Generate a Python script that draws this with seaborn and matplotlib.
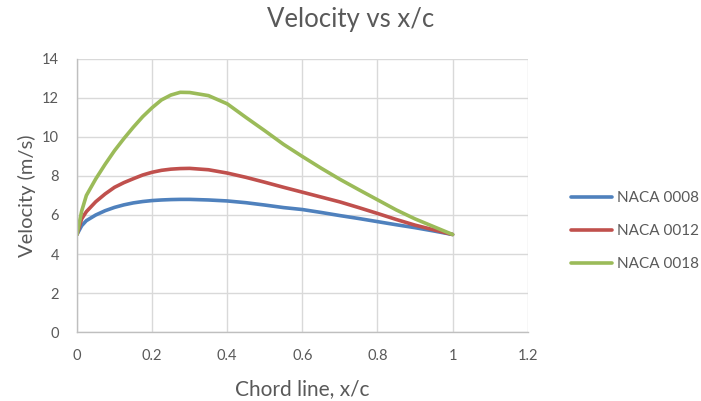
import pandas as pd
import seaborn as sns
import matplotlib
matplotlib.use('Agg')
import matplotlib.pyplot as plt

# chord positions and velocities
x_c = [0, 0.0125, 0.025, 0.05, 0.075, 0.1, 0.125, 0.15, 0.175, 0.2, 0.225, 0.25, 0.275, 0.3,
       0.35, 0.4, 0.45, 0.5, 0.55, 0.6, 0.65, 0.7, 0.75, 0.8, 0.85, 0.9, 0.95, 1.0]
v_0008 = [5.0, 5.45, 5.71, 6.0, 6.22, 6.39, 6.52, 6.62, 6.69, 6.74, 6.77, 6.79, 6.8, 6.8,
          6.77, 6.72, 6.63, 6.51, 6.38, 6.28, 6.13, 5.97, 5.82, 5.66, 5.5, 5.35, 5.18, 5.0]
v_0012 = [5.0, 5.8, 6.17, 6.68, 7.08, 7.42, 7.66, 7.86, 8.05, 8.19, 8.29, 8.35, 8.38, 8.39,
          8.32, 8.15, 7.93, 7.68, 7.42, 7.17, 6.92, 6.67, 6.38, 6.08, 5.77, 5.48, 5.24, 5.0]
v_0018 = [5.0, 6.2, 7.0, 7.85, 8.6, 9.3, 9.92, 10.5, 11.04, 11.5, 11.9, 12.15, 12.29, 12.28,
          12.12, 11.7, 11.0, 10.32, 9.62, 9.0, 8.4, 7.83, 7.3, 6.78, 6.26, 5.8, 5.4, 5.0]
series = ['NACA 0008', 'NACA 0012', 'NACA 0018']
colors = ['#4F81BD', '#C0504D', '#9BBB59']

df = pd.DataFrame({'x/c': x_c * 3,
                   'Velocity': v_0008 + v_0012 + v_0018,
                   'Airfoil': [s for s in series for _ in x_c]})

sns.set_style('whitegrid')
plt.rcParams['font.family'] = ['Lato', 'DejaVu Sans']

fig = plt.figure(figsize=(7.01, 4.01), dpi=100)
ax = fig.add_axes([0.1098, 0.172, 0.643, 0.681])

sns.lineplot(data=df, x='x/c', y='Velocity', hue='Airfoil', palette=colors,
             linewidth=2.6, ax=ax, legend=True)

ax.set_xlim(0, 1.2)
ax.set_ylim(0, 14)
ax.set_xticks([0, 0.2, 0.4, 0.6, 0.8, 1.0, 1.2])
ax.set_xticklabels(['0', '0.2', '0.4', '0.6', '0.8', '1', '1.2'])
ax.set_yticks(range(0, 15, 2))
ax.grid(True, color='#D9D9D9', linewidth=1)
for side in ['top', 'right']:
    ax.spines[side].set_visible(False)
for side in ['left', 'bottom']:
    ax.spines[side].set_color('#BFBFBF')
    ax.spines[side].set_linewidth(1)
ax.tick_params(axis='both', colors='#595959', labelsize=10.5, length=0)
ax.tick_params(axis='x', pad=12)
ax.tick_params(axis='y', pad=13)

ax.set_xlabel('Chord line, x/c', fontsize=15, color='#595959')
ax.xaxis.label.set_va('baseline')
ax.xaxis.set_label_coords(0.5, -0.231)
ax.set_ylabel('Velocity (m/s)', fontsize=14.5, color='#595959')
ax.yaxis.label.set_va('center')
ax.yaxis.set_label_coords(-0.111, 0.5)
fig.text(0.5, 0.933, 'Velocity vs x/c', fontsize=18.5, color='#595959', ha='center', va='baseline')

leg = ax.legend(loc='center left', bbox_to_anchor=(0.8146, 0.424), bbox_transform=fig.transFigure,
                frameon=False, fontsize=11, labelspacing=1.25, handlelength=2.7,
                handletextpad=0.33, borderpad=0, borderaxespad=0)
for t in leg.get_texts():
    t.set_color('#595959')

fig.savefig('out.png', dpi=100)
